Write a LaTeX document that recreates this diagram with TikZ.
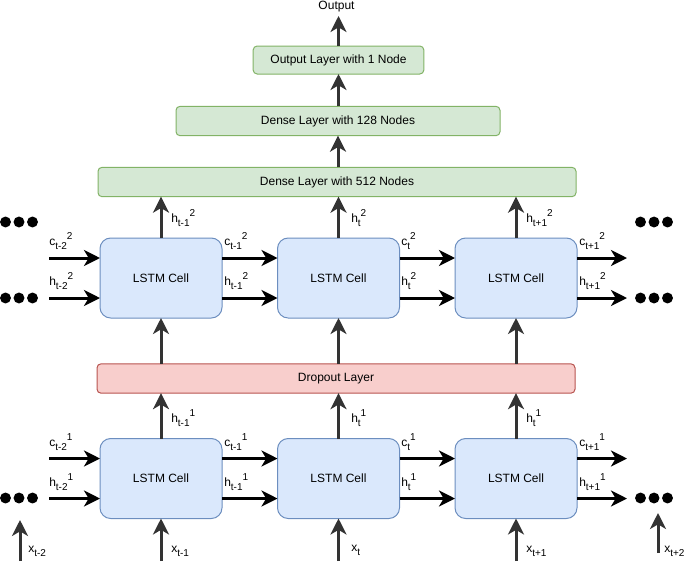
\documentclass[tikz,border=0pt]{standalone}
\usepackage{fontspec}
\setmainfont{Liberation Sans}
\usetikzlibrary{arrows.meta}
\definecolor{cellfill}{HTML}{DAE8FC}
\definecolor{cellline}{HTML}{6C8EBF}
\definecolor{gfill}{HTML}{D5E8D4}
\definecolor{gline}{HTML}{82B366}
\definecolor{rfill}{HTML}{F8CECC}
\definecolor{rline}{HTML}{B85450}
\definecolor{darkarrow}{HTML}{333333}
\newcommand{\mysub}[1]{\raisebox{-3pt}{\fontsize{7.5}{8}\selectfont #1}}
\newcommand{\mysup}[1]{\raisebox{4pt}{\fontsize{7.5}{8}\selectfont #1}}
\newcommand{\lbl}[3]{#1\mysub{#2}\mysup{#3}}
\begin{document}
\begin{tikzpicture}[x=0.75pt,y=-0.75pt,font=\fontsize{9}{11}\selectfont,
  cell/.style={draw=cellline,fill=cellfill,line width=0.75pt,rounded corners=8pt,
    minimum width=91.5pt,minimum height=60pt,inner sep=0pt,outer sep=0pt},
  gbox/.style={draw=gline,fill=gfill,line width=0.75pt,rounded corners=3pt,
    minimum height=22pt,inner sep=0pt,outer sep=0pt},
  rbox/.style={draw=rline,fill=rfill,line width=0.75pt,rounded corners=3pt,
    minimum height=22pt,inner sep=0pt,outer sep=0pt},
  harrow/.style={line width=2.25pt,draw=black,-{Stealth[length=12pt,width=12pt,inset=3.5pt]}},
  varrow/.style={harrow,draw=darkarrow},
  lab/.style={anchor=base west,inner sep=0pt},
  dot/.style={circle,fill=black,inner sep=0pt,minimum size=8.2pt}]
\useasboundingbox (0,0) rectangle (685,561);

% boxes
\node[gbox,minimum width=128pt,minimum height=21pt] (out) at (338.5,60) {Output Layer with 1 Node};
\node[gbox,minimum width=243pt] (d128) at (338,121) {Dense Layer with 128 Nodes};
\node[gbox,minimum width=358.5pt] (d512) at (337,182) {Dense Layer with 512 Nodes};
\node[rbox,minimum width=358.5pt] (drop) at (336,378.5) {Dropout Layer};
\node[anchor=base,inner sep=0pt,outer sep=3pt] (outtxt) at (336.5,9.5) {Output};

\node[cell] (u1) at (161,278) {LSTM Cell};
\node[cell] (u2) at (338.5,278) {LSTM Cell};
\node[cell] (u3) at (516,278) {LSTM Cell};
\node[cell] (l1) at (161,478.5) {LSTM Cell};
\node[cell] (l2) at (338.5,478.5) {LSTM Cell};
\node[cell] (l3) at (516,478.5) {LSTM Cell};

% vertical arrows
\draw[varrow] (out.north) -- (outtxt.south -| out.north);
\draw[varrow] (d128.north -| out.south) -- (out.south);
\draw[varrow] (d512.north -| d128.south) -- (d128.south);
\foreach \n in {1,2,3}{
  \draw[varrow] (u\n.north) -- (d512.south -| u\n.north);
  \draw[varrow] (drop.north -| u\n.south) -- (u\n.south);
  \draw[varrow] (l\n.north) -- (drop.south -| l\n.north);
}
\coordinate (xb1) at (161,561);
\coordinate (xb2) at (338.5,561);
\coordinate (xb3) at (516,561);
\foreach \n in {1,2,3}{\draw[varrow] (xb\n) -- (l\n.south);}
\coordinate (xm2b) at (20,561); \coordinate (xm2t) at (20,520);
\coordinate (xp2b) at (658,553); \coordinate (xp2t) at (658,513);
\draw[varrow] (xm2b) -- (xm2t);
\draw[varrow] (xp2b) -- (xp2t);

% horizontal arrows
\foreach \r in {u,l}{
  \draw[harrow] ([yshift=15pt]\r1.east) -- ([yshift=15pt]\r2.west);
  \draw[harrow] ([yshift=-15pt]\r1.east) -- ([yshift=-15pt]\r2.west);
  \draw[harrow] ([yshift=15pt]\r2.east) -- ([yshift=15pt]\r3.west);
  \draw[harrow] ([yshift=-15pt]\r2.east) -- ([yshift=-15pt]\r3.west);
}
\coordinate (ucL) at (49,258); \coordinate (uhL) at (49,298);
\coordinate (ucR) at (627,258); \coordinate (uhR) at (627,298);
\coordinate (lcL) at (49,458.5); \coordinate (lhL) at (49,498.5);
\coordinate (lcR) at (627,458.5); \coordinate (lhR) at (627,498.5);
\draw[harrow] (ucL) -- (ucL -| u1.west);
\draw[harrow] (uhL) -- (uhL -| u1.west);
\draw[harrow] (ucR -| u3.east) -- (ucR);
\draw[harrow] (uhR -| u3.east) -- (uhR);
\draw[harrow] (lcL) -- (lcL -| l1.west);
\draw[harrow] (lhL) -- (lhL -| l1.west);
\draw[harrow] (lcR -| l3.east) -- (lcR);
\draw[harrow] (lhR -| l3.east) -- (lhR);

% dots
\foreach \y/\nm in {222/a,298/b,498/c}{
  \foreach \x/\k in {5.5/1,19/2,32.5/3}{\node[dot] (dl\nm\k) at (\x,\y) {};}
}
\foreach \y/\nm in {222/a,298/b,498/c}{
  \foreach \x/\k in {640.5/1,654/2,667.5/3}{\node[dot] (dr\nm\k) at (\x,\y) {};}
}

% labels upper row
\node[lab] at (49,245) {\lbl{c}{t-2}{2}};
\node[lab] at (49,285) {\lbl{h}{t-2}{2}};
\node[lab] at (224,245) {\lbl{c}{t-1}{2}};
\node[lab] at (224,285) {\lbl{h}{t-1}{2}};
\node[lab] at (401,245) {\lbl{c}{t}{2}};
\node[lab] at (401,285) {\lbl{h}{t}{2}};
\node[lab] at (579,245) {\lbl{c}{t+1}{2}};
\node[lab] at (579,285) {\lbl{h}{t+1}{2}};
\node[lab] at (171,222) {\lbl{h}{t-1}{2}};
\node[lab] at (351,222) {\lbl{h}{t}{2}};
\node[lab] at (526,222) {\lbl{h}{t+1}{2}};
% labels lower row
\node[lab] at (49,446) {\lbl{c}{t-2}{1}};
\node[lab] at (49,486) {\lbl{h}{t-2}{1}};
\node[lab] at (224,446) {\lbl{c}{t-1}{1}};
\node[lab] at (224,486) {\lbl{h}{t-1}{1}};
\node[lab] at (401,446) {\lbl{c}{t}{1}};
\node[lab] at (401,486) {\lbl{h}{t}{1}};
\node[lab] at (579,446) {\lbl{c}{t+1}{1}};
\node[lab] at (579,486) {\lbl{h}{t+1}{1}};
\node[lab] at (171,422) {\lbl{h}{t-1}{1}};
\node[lab] at (351,422) {\lbl{h}{t}{1}};
\node[lab] at (526,422) {\lbl{h}{t}{1}};
% x labels
\node[lab] at (28,552) {x\mysub{t-2}};
\node[lab] at (171,552) {x\mysub{t-1}};
\node[lab] at (351,551) {x\mysub{t}};
\node[lab] at (526,552) {x\mysub{t+1}};
\node[lab] at (664,552) {x\mysub{t+2}};
\end{tikzpicture}
\end{document}
